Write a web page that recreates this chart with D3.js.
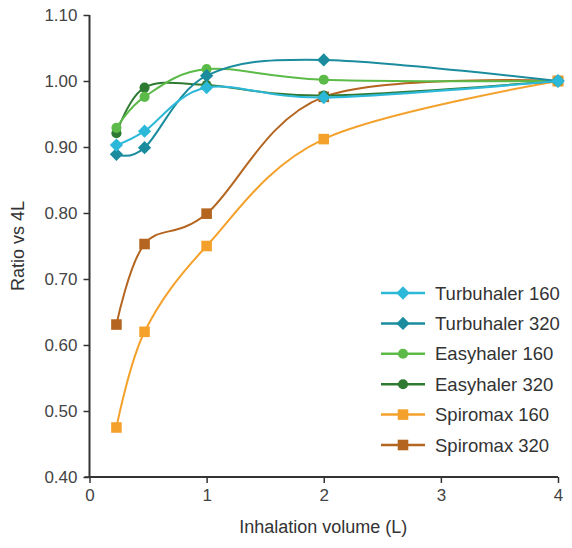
<!DOCTYPE html>
<html>
<head>
<meta charset="utf-8">
<script src="https://cdn.jsdelivr.net/npm/d3@7"></script>
<style>
  html, body { margin: 0; padding: 0; background: #fff; }
  text { font-family: "Liberation Sans", Arial, sans-serif; }
</style>
</head>
<body>
<svg id="chart" width="572" height="548"></svg>
<script>
// ---- data ----
const volumes = [0.23, 0.47, 1, 2, 4];
const seriesNames = ["Turbuhaler 160", "Turbuhaler 320", "Easyhaler 160", "Easyhaler 320", "Spiromax 160", "Spiromax 320"];
const turbuhaler160 = [0.903, 0.924, 0.990, 0.975, 1.000];
const turbuhaler320 = [0.889, 0.899, 1.008, 1.032, 1.000];
const easyhaler160  = [0.929, 0.976, 1.018, 1.002, 1.000];
const easyhaler320  = [0.921, 0.990, 0.994, 0.978, 1.000];
const spiromax160   = [0.475, 0.620, 0.750, 0.912, 1.000];
const spiromax320   = [0.631, 0.753, 0.799, 0.976, 1.000];
const xTicks = [0, 1, 2, 3, 4];
const yTicks = [0.40, 0.50, 0.60, 0.70, 0.80, 0.90, 1.00, 1.10];

const seriesValues = [turbuhaler160, turbuhaler320, easyhaler160, easyhaler320, spiromax160, spiromax320];
const colors = ["#2cb8d8", "#1a8c9e", "#5cbb48", "#2e7a32", "#f4a12c", "#b4651f"];
const markers = ["diamond", "diamond", "circle", "circle", "square", "square"];

const svg = d3.select("#chart");
const x = d3.scaleLinear().domain([0, 4]).range([89.5, 558]);
const y = d3.scaleLinear().domain([0.40, 1.10]).range([477, 15]);

// axes
const axisColor = "#333";
const gx = svg.append("g").attr("transform", `translate(0,${y(0.40)})`)
  .call(d3.axisBottom(x).tickValues(xTicks).tickFormat(d3.format("d")).tickSize(6).tickPadding(6));
const gy = svg.append("g").attr("transform", `translate(${x(0)},0)`)
  .call(d3.axisLeft(y).tickValues(yTicks).tickFormat(d3.format(".2f")).tickSize(6).tickPadding(6));
[gx, gy].forEach(g => {
  g.select(".domain").attr("stroke", axisColor).attr("stroke-width", 2);
  g.selectAll(".tick line").attr("stroke", axisColor).attr("stroke-width", 1.5);
  g.selectAll(".tick text").attr("fill", "#444").style("font-size", "17px")
    .style("font-family", "'Liberation Sans', Arial, sans-serif");
});
gx.select(".domain").attr("d", `M${x(0)},0H${x(4)}`);
gy.select(".domain").attr("d", `M0,${y(1.10)}V${y(0.40)}`);
// extend x axis slightly to left past y axis like reference
svg.append("line").attr("x1", x(0) - 5).attr("x2", x(0)).attr("y1", y(0.40)).attr("y2", y(0.40))
  .attr("stroke", axisColor).attr("stroke-width", 1.5);

// axis titles
svg.append("text").attr("x", (x(0) + x(4)) / 2 - 0.5).attr("y", 533).attr("text-anchor", "middle")
  .attr("fill", "#333").style("font-size", "18px").text("Inhalation volume (L)");
svg.append("text").attr("transform", `translate(24,${(y(1.10) + y(0.40)) / 2}) rotate(-90)`)
  .attr("text-anchor", "middle").attr("fill", "#333").style("font-size", "18px").text("Ratio vs 4L");

function symbolFor(kind) {
  if (kind === "diamond") return d3.symbol().type(d3.symbolSquare).size(88)();
  if (kind === "circle") return d3.symbol().type(d3.symbolCircle).size(80)();
  return d3.symbol().type(d3.symbolSquare).size(112)();
}
function markerTransform(kind, px, py) {
  return kind === "diamond" ? `translate(${px},${py}) rotate(45)` : `translate(${px},${py})`;
}

const line = d3.line().x((d, i) => x(volumes[i])).y(d => y(d)).curve(d3.curveCardinal.tension(0));

// draw in reverse order so first series lies on top
for (let s = seriesNames.length - 1; s >= 0; s--) {
  const g = svg.append("g");
  g.append("path").attr("d", line(seriesValues[s])).attr("fill", "none")
    .attr("stroke", colors[s]).attr("stroke-width", 2);
  g.selectAll("path.m").data(seriesValues[s]).join("path").attr("class", "m")
    .attr("d", symbolFor(markers[s]))
    .attr("transform", (d, i) => markerTransform(markers[s], x(volumes[i]), y(d)))
    .attr("fill", colors[s]);
}

// legend
const legend = svg.append("g");
seriesNames.forEach((name, i) => {
  const ly = 293 + i * 30.4;
  const g = legend.append("g");
  g.append("line").attr("x1", 381).attr("x2", 425).attr("y1", ly).attr("y2", ly)
    .attr("stroke", colors[i]).attr("stroke-width", 2.5);
  g.append("path").attr("d", symbolFor(markers[i])).attr("transform", markerTransform(markers[i], 403, ly))
    .attr("fill", colors[i]);
  g.append("text").attr("x", 435).attr("y", ly + 6.5).attr("fill", "#333")
    .style("font-size", "18.5px").text(name);
});
</script>
</body>
</html>
